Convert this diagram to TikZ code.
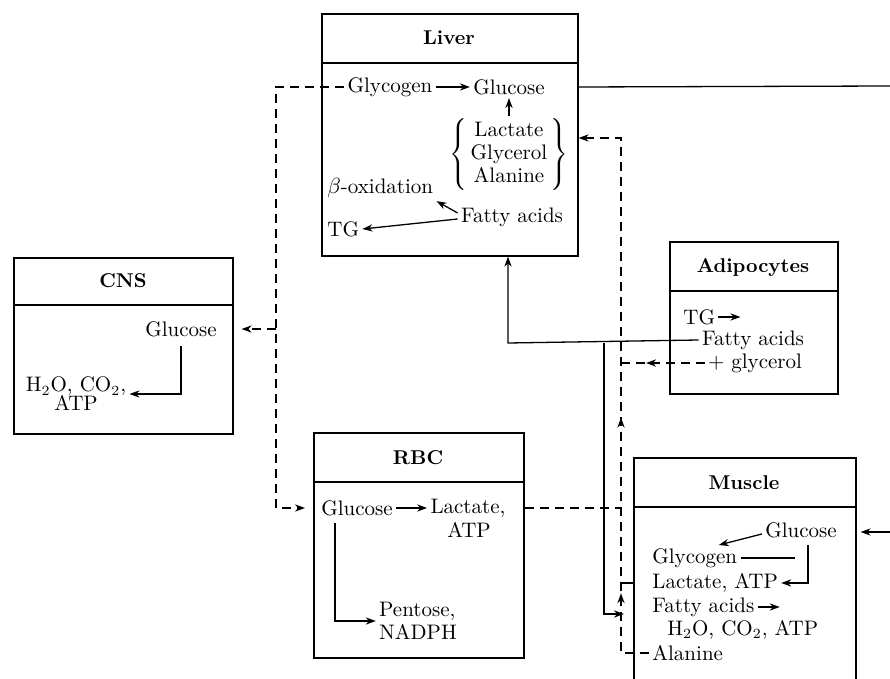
\documentclass[tikz,border=0pt]{standalone}
\usepackage{tikz}
\usetikzlibrary{arrows,arrows.meta,decorations.markings}

\begin{document}
\begin{tikzpicture}[x=0.5pt,y=-0.5pt,
	font=\fontsize{10.5}{11.5}\selectfont,
	>={Stealth[length=5pt,width=3.6pt,inset=1.6pt]},
	organ/.style={draw,line width=0.8pt,inner sep=0pt,anchor=north west},
	head/.style={font=\fontsize{10}{12}\selectfont\bfseries},
	txt/.style={inner sep=1.5pt},
	flow/.style={line width=0.65pt,->},
	plain/.style={line width=0.65pt},
	blood/.style={line width=0.65pt,dash pattern=on 4.5pt off 3pt}]

	\useasboundingbox (0,0) rectangle (890,679);
	\clip (0,0) rectangle (890,679);

	% organ boxes
	\node[organ,minimum width=128pt,minimum height=121pt] (liverbox) at (321,13) {};
	\node[organ,minimum width=109.5pt,minimum height=88pt] (cnsbox) at (13,257) {};
	\node[organ,minimum width=84pt,minimum height=76pt] (adipobox) at (669,241) {};
	\node[organ,minimum width=105pt,minimum height=112.5pt] (rbcbox) at (313,432) {};
	\node[organ,minimum width=111pt,minimum height=130pt] (musclebox) at (633,457) {};
	\draw[line width=0.8pt] (liverbox.north west) ++(0,50) -- ++(256,0);
	\draw[line width=0.8pt] (cnsbox.north west) ++(0,48) -- ++(219,0);
	\draw[line width=0.8pt] (adipobox.north west) ++(0,50) -- ++(168,0);
	\draw[line width=0.8pt] (rbcbox.north west) ++(0,50) -- ++(210,0);
	\draw[line width=0.8pt] (musclebox.north west) ++(0,50) -- ++(222,0);

	% liver
	\node[head] (livertitle) at (449,38) {Liver};
	\node[txt] (lglycogen) at (390,87) {Glycogen};
	\node[txt] (lglucose) at (509,87) {Glucose};
	\node[txt] (lgroup) at (509,155) {$\left\{\begin{tabular}{@{\,}c@{\,}}Lactate\\Glycerol\\Alanine\end{tabular}\right\}$};
	\node[txt,anchor=west] (lbeta) at (324,188) {$\beta$-oxidation};
	\node[txt] (lfatty) at (512,217) {Fatty acids};
	\node[txt,anchor=west] (ltg) at (324,229) {TG};

	% CNS
	\node[head] (cnstitle) at (123,281) {CNS};
	\node[txt] (cglucose) at (181,329) {Glucose};
	\node[txt,align=center] (cwaste) at (76,394) {H$_2$O, CO$_2$,\\[-2pt]ATP};

	% adipocytes
	\node[head] (adipotitle) at (753,268) {Adipocytes};
	\node[txt,anchor=west] (atg) at (680,317) {TG};
	\node[txt] (afatty) at (753,340) {Fatty acids};
	\node[txt] (aglycerol) at (755,363) {+ glycerol};

	% RBC
	\node[head] (rbctitle) at (418,458) {RBC};
	\node[txt] (rglucose) at (357,508) {Glucose};
	\node[txt] (rlactate) at (468,508) {Lactate,};
	\node[txt] (ratp) at (469,530) {ATP};
	\node[txt,align=left] (rpentose) at (418,621) {Pentose,\\NADPH};

	% muscle
	\node[head] (muscletitle) at (744,483) {Muscle};
	\node[txt] (mglucose) at (801,530) {Glucose};
	\node[txt,anchor=west] (mglycogen) at (649,558) {Glycogen};
	\node[txt,anchor=west] (mlactate) at (649,583) {Lactate, ATP};
	\node[txt,anchor=west] (mfatty) at (649,607) {Fatty acids};
	\node[txt,anchor=west] (mwaste) at (664,630) {H$_2$O, CO$_2$, ATP};
	\node[txt,anchor=west] (malanine) at (649,653) {Alanine};

	% junctions
	\coordinate (vleft) at (276,87);
	\coordinate (vright) at (621,138);
	\coordinate (rimtop) at (890,86);
	\coordinate (rimlow) at (890,532);
	\coordinate (faup) at (508,343);
	\coordinate (fadown) at (604,343);
	\coordinate (famuscle) at (624,614);

	% inside the liver
	\draw[flow] (lglycogen) -- (lglucose);
	\draw[flow] (lgroup.north) -- (lglucose.south);
	\draw[flow] ([yshift=2pt]lfatty.west) -- (lbeta.south east);
	\draw[flow] ([yshift=-1pt]lfatty.west) -- (ltg.east);
	\draw[plain] (liverbox.east |- lglucose) -- (rimtop);
	\draw[flow,shorten >=2pt] (rimlow) -- (musclebox.east |- rimlow);

	% glucose to CNS and RBC
	\draw[blood,->,shorten >=4pt] (lglycogen.west) -- (vleft) |- (rbcbox.west |- rglucose);
	\draw[blood,->,shorten >=4pt] (vleft |- cglucose) -- (cnsbox.east |- cglucose);
	\draw[flow] ([yshift=-3pt]cglucose.south) |- (cwaste.east);

	% RBC
	\draw[flow] (rglucose) -- (rlactate);
	\draw[flow] ([xshift=-11pt,yshift=-2pt]rglucose.south) |- (rpentose.west);
	\draw[blood] (rbcbox.east |- rglucose) -- (vright |- rglucose);

	% lactate, alanine back to the liver
	\draw[blood,->,postaction={decorate},
		decoration={markings,mark=at position 0.15 with {\arrow{>}},
			mark=at position 0.45 with {\arrow{>}}}]
		(malanine.west) -- (vright |- malanine) -- (vright) -- (liverbox.east |- vright);
	\draw[plain] (musclebox.west |- mlactate) -- (vright |- mlactate);

	% adipocytes
	\draw[flow] (atg.east) -- ++(22,0);
	\draw[blood,postaction={decorate},
		decoration={markings,mark=at position 0.7 with {\arrow{>}}}]
		(aglycerol.west) -- (vright |- aglycerol);
	\draw[flow] (afatty.west) -- (faup) -- (faup |- liverbox.south);
	\draw[flow] (fadown) -- (fadown |- famuscle) -- (famuscle);

	% inside the muscle
	\draw[flow] ([yshift=-2pt]mglucose.west) -- ([xshift=12pt]mglycogen.north);
	\draw[plain] (mglycogen.east) -- ++(54,0);
	\draw[flow] ([xshift=3.5pt,yshift=-2pt]mglucose.south) |- (mlactate.east);
	\draw[flow] (mfatty.east) -- ++(22,0);
\end{tikzpicture}
\end{document}
